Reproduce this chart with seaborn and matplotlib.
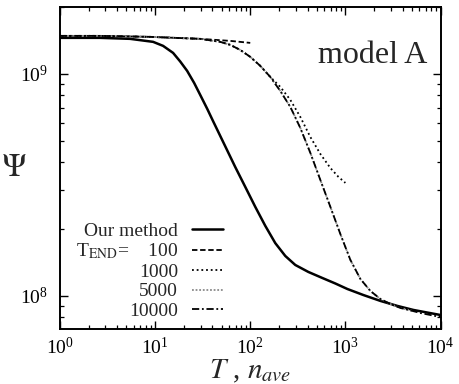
import numpy as np
import pandas as pd
import matplotlib
matplotlib.use("Agg")
import matplotlib.pyplot as plt
import seaborn as sns
from matplotlib.ticker import LogLocator, NullFormatter, LogFormatterSciNotation

# ---- data ----
our_T = [1, 2.637, 5.456, 9.52, 12.13, 15.45, 18.33, 21.7, 25.7, 29.8, 35.3, 40.8, 47.2, 54.6,
         69.5, 88.6, 112.9, 143.8, 183.3, 233.6, 297.6, 408, 573, 785, 1050, 1545, 2336, 3525,
         5200, 10000]
our_psi = [1.453e9, 1.453e9, 1.438e9, 1.394e9, 1.337e9, 1.243e9, 1.138e9, 1.032e9, 9.11e8,
           8.04e8, 6.96e8, 6.11e8, 5.37e8, 4.72e8, 3.81e8, 3.10e8, 2.52e8, 2.07e8, 1.73e8,
           1.514e8, 1.379e8, 1.283e8, 1.205e8, 1.138e8, 1.075e8, 1.010e8, 9.50e7, 9.02e7,
           8.65e7, 8.21e7]

t100_T = [1, 2.64, 8.86, 29.8, 61.6, 100]
t100_psi = [1.483e9, 1.483e9, 1.468e9, 1.438e9, 1.408e9, 1.379e9]

t1000_T = [1, 2.64, 8.86, 29.8, 48.3, 61.6, 78.5, 100, 127.4, 162.4, 206.9, 263.7, 336,
           428.1, 545.6, 695.2, 843.9, 1000]
t1000_psi = [1.483e9, 1.483e9, 1.468e9, 1.438e9, 1.394e9, 1.351e9, 1.282e9, 1.193e9, 1.087e9,
             9.69e8, 8.74e8, 7.64e8, 6.40e8, 5.20e8, 4.36e8, 3.77e8, 3.44e8, 3.23e8]

t5000_T = [1, 2.64, 8.86, 29.8, 48.3, 61.6, 78.5, 100, 127.4, 162.4, 206.9, 263.7, 336,
           428.1, 545.6, 695.2, 885.9, 1129, 1438, 1833, 2336, 2976, 3793, 5000]
t5000_psi = [1.483e9, 1.483e9, 1.468e9, 1.438e9, 1.394e9, 1.351e9, 1.282e9, 1.193e9, 1.087e9,
             9.69e8, 8.38e8, 7.10e8, 5.71e8, 4.41e8, 3.33e8, 2.52e8, 1.90e8, 1.453e8, 1.193e8,
             1.053e8, 9.69e7, 9.20e7, 8.83e7, 8.58e7]

t10000_T = [1, 2.64, 8.86, 29.8, 48.3, 61.6, 78.5, 100, 127.4, 162.4, 206.9, 263.7, 336,
            428.1, 545.6, 695.2, 885.9, 1129, 1438, 1833, 2336, 2976, 3793, 5000, 6158, 10000]
t10000_psi = [1.483e9, 1.483e9, 1.468e9, 1.438e9, 1.394e9, 1.351e9, 1.282e9, 1.193e9, 1.087e9,
              9.69e8, 8.38e8, 7.10e8, 5.71e8, 4.41e8, 3.33e8, 2.52e8, 1.90e8, 1.453e8, 1.193e8,
              1.053e8, 9.69e7, 9.20e7, 8.83e7, 8.58e7, 8.38e7, 8.04e7]

labels = ["Our method", "T$_{\\mathrm{END}}$=    100", "1000", "5000", "10000"]
model_label = "model A"

# ---- style ----
sns.set_style("ticks")
plt.rcParams["font.family"] = ["Liberation Serif", "DejaVu Serif"]
plt.rcParams["mathtext.fontset"] = "stix"

fig = plt.figure(figsize=(4.59, 3.84), dpi=100)
ax = fig.add_axes([0.1307, 0.1432, 0.8290, 0.8385])

series = [
    (our_T, our_psi, dict(color="black", lw=1.8, linestyle="-")),
    (t100_T, t100_psi, dict(color="black", lw=1.3, linestyle=(0, (3, 1.5)))),
    (t1000_T, t1000_psi, dict(color="black", lw=1.3, linestyle=(0, (1, 1.6)))),
    (t5000_T, t5000_psi, dict(color="#8a8a8a", lw=1.3, linestyle=(0, (1, 1)))),
    (t10000_T, t10000_psi, dict(color="black", lw=1.3, linestyle=(0, (4, 1.5, 1, 1.5)))),
]
for (xs, ys, kw), lab in zip(series, labels):
    df = pd.DataFrame({"T": xs, "psi": ys})
    sns.lineplot(data=df, x="T", y="psi", ax=ax, label=lab, estimator=None, sort=False, **kw)

ax.set_xscale("log")
ax.set_yscale("log")
ax.set_xlim(1, 1e4)
ax.set_ylim(7.1e7, 2e9)

ax.xaxis.set_major_locator(LogLocator(base=10, numticks=10))
ax.xaxis.set_minor_locator(LogLocator(base=10, subs=np.arange(2, 10), numticks=50))
ax.yaxis.set_major_locator(LogLocator(base=10, numticks=10))
ax.yaxis.set_minor_locator(LogLocator(base=10, subs=np.arange(2, 10), numticks=50))
ax.xaxis.set_major_formatter(LogFormatterSciNotation())
ax.yaxis.set_major_formatter(LogFormatterSciNotation())
ax.xaxis.set_minor_formatter(NullFormatter())
ax.yaxis.set_minor_formatter(NullFormatter())

ax.tick_params(which="both", direction="in", top=True, right=True, colors="black")
ax.tick_params(which="major", length=6, width=1.0, labelsize=14)
ax.tick_params(which="minor", length=3, width=0.9)
ax.tick_params(axis="y", which="major", pad=9)
ax.tick_params(axis="x", which="major", pad=6)
for sp in ax.spines.values():
    sp.set_visible(True)
    sp.set_linewidth(1.4)
    sp.set_color("black")

ax.set_xlabel("$T$ , $n_{ave}$", fontsize=21)
ax.xaxis.set_label_coords(0.5, -0.089)
ax.set_ylabel("$\\Psi$", fontsize=24, rotation=0, ha="center", va="center")
ax.yaxis.set_label_coords(-0.121, 0.5)

ax.text(0.965, 0.826, model_label, transform=ax.transAxes, ha="right", va="baseline", fontsize=23)

leg = ax.legend(loc="lower right", bbox_to_anchor=(0.428, 0.028), frameon=False,
                markerfirst=False, fontsize=14, handlelength=1.6, handletextpad=0.7,
                labelspacing=0.1, borderpad=0, borderaxespad=0)

fig.savefig("out.png", dpi=100)
